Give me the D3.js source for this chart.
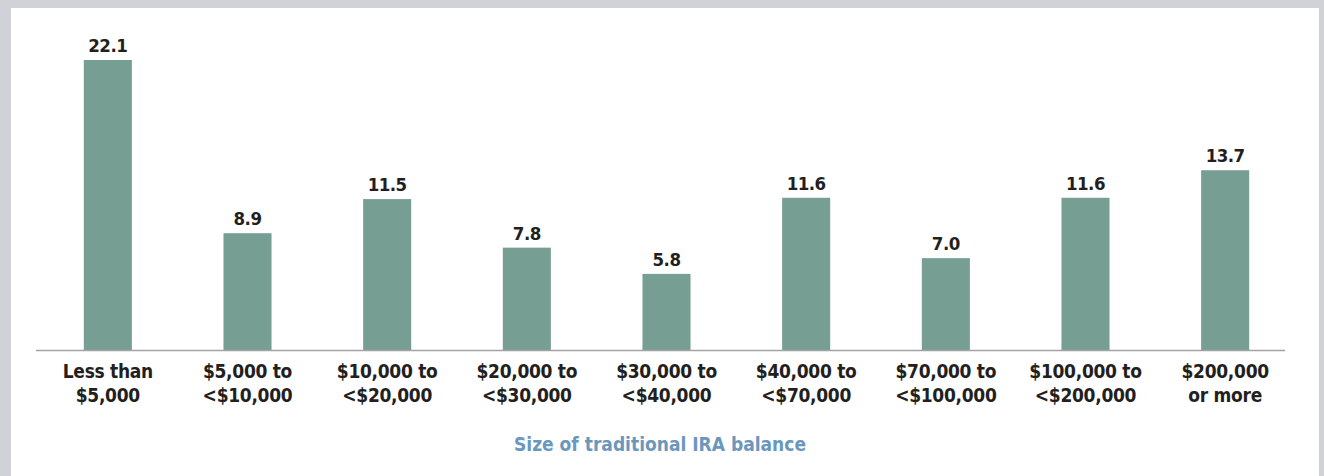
<!DOCTYPE html>
<html>
<head>
<meta charset="utf-8">
<script src="https://cdn.jsdelivr.net/npm/d3@7"></script>
<style>
  html, body { margin: 0; padding: 0; background: #d1d2d7; }
  svg { display: block; }
</style>
</head>
<body>
<div id="chart"></div>
<script>
const categories = [
  ["Less than", "$5,000"],
  ["$5,000 to", "<$10,000"],
  ["$10,000 to", "<$20,000"],
  ["$20,000 to", "<$30,000"],
  ["$30,000 to", "<$40,000"],
  ["$40,000 to", "<$70,000"],
  ["$70,000 to", "<$100,000"],
  ["$100,000 to", "<$200,000"],
  ["$200,000", "or more"]
];
const values = [22.1, 8.9, 11.5, 7.8, 5.8, 11.6, 7.0, 11.6, 13.7];
const axisTitle = "Size of traditional IRA balance";

const W = 1324, H = 476;
const font = "'DejaVu Sans Condensed', 'Liberation Sans Narrow', sans-serif";

const svg = d3.select("#chart")
    .append("svg")
    .attr("width", W)
    .attr("height", H);

// white panel on the grey page
svg.append("rect")
    .attr("x", 11).attr("y", 8)
    .attr("width", 1308).attr("height", H - 8)
    .attr("fill", "#ffffff");

const keys = categories.map((d, i) => i);

const x = d3.scaleBand()
    .domain(keys)
    .range([38, 1295])
    .paddingInner(0.656)
    .paddingOuter(0.328);

const y = d3.scaleLinear()
    .domain([0, 22.1])
    .range([350, 60]);

svg.append("g")
    .selectAll("rect")
    .data(values)
    .enter()
    .append("rect")
    .attr("x", (d, i) => x(i))
    .attr("y", d => y(d))
    .attr("width", x.bandwidth())
    .attr("height", d => y(0) - y(d))
    .attr("fill", "#779e92");

// baseline
svg.append("line")
    .attr("x1", 36).attr("x2", 1285)
    .attr("y1", y(0) + 0.5).attr("y2", y(0) + 0.5)
    .attr("stroke", "#a3a3a6")
    .attr("stroke-width", 1.5);

svg.append("g")
    .selectAll("text")
    .data(values)
    .enter()
    .append("text")
    .attr("x", (d, i) => x(i) + x.bandwidth() / 2)
    .attr("y", d => y(d) - 8)
    .attr("text-anchor", "middle")
    .attr("font-family", font)
    .attr("font-weight", "bold")
    .attr("font-size", 18.5)
    .attr("letter-spacing", -0.5)
    .attr("fill", "#231f20")
    .text(d => d.toFixed(1));

const labels = svg.append("g")
    .selectAll("text")
    .data(categories)
    .enter()
    .append("text")
    .attr("x", (d, i) => x(i) + x.bandwidth() / 2)
    .attr("y", 378)
    .attr("text-anchor", "middle")
    .attr("font-family", font)
    .attr("font-weight", "bold")
    .attr("font-size", 19)
    .attr("letter-spacing", -0.3)
    .attr("fill", "#231f20");

labels.selectAll("tspan")
    .data(d => d)
    .enter()
    .append("tspan")
    .attr("x", function() { return d3.select(this.parentNode).attr("x"); })
    .attr("dy", (d, i) => i === 0 ? 0 : 24)
    .text(d => d);

svg.append("text")
    .attr("x", 660)
    .attr("y", 451)
    .attr("text-anchor", "middle")
    .attr("font-family", font)
    .attr("font-weight", "bold")
    .attr("font-size", 19)
    .attr("fill", "#6b97bd")
    .text(axisTitle);
</script>
</body>
</html>
